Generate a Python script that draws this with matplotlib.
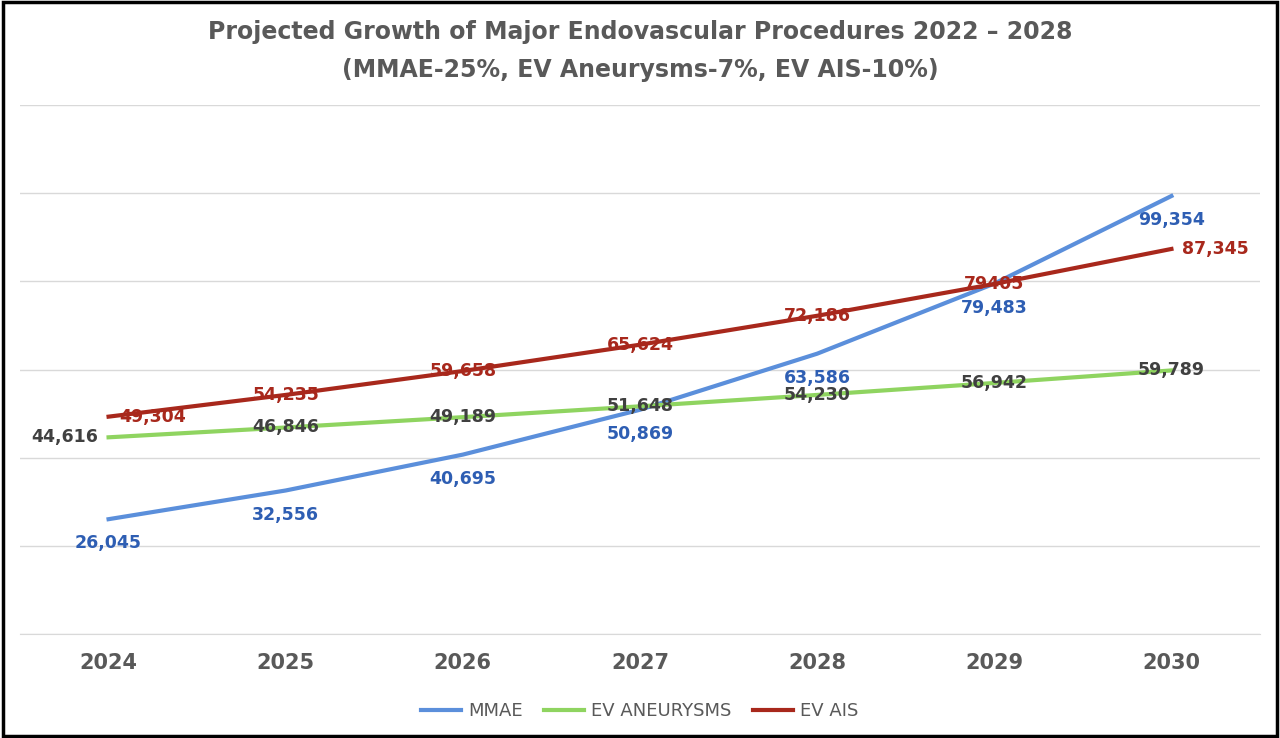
import matplotlib.pyplot as plt
from matplotlib.patches import Rectangle

years = ['2024', '2025', '2026', '2027', '2028', '2029', '2030']
mmae = [26045, 32556, 40695, 50869, 63586, 79483, 99354]
aneurysms = [44616, 46846, 49189, 51648, 54230, 56942, 59789]
ais = [49304, 54235, 59658, 65624, 72186, 79405, 87345]
ais_labels = ['49,304', '54,235', '59,658', '65,624', '72,186', '79405', '87,345']

fig = plt.figure(figsize=(12.8, 7.38), dpi=100)
ax = fig.add_axes([20 / 1280, 104 / 738, 1240 / 1280, 529 / 738])
x = range(len(years))

ax.plot(x, mmae, color='#5B8FDB', lw=3, label='MMAE', zorder=3)
ax.plot(x, aneurysms, color='#8FD460', lw=3, label='EV ANEURYSMS', zorder=3)
ax.plot(x, ais, color='#A8281C', lw=3, label='EV AIS', zorder=3)

for i, v in enumerate(mmae):
    if i == 6:
        ax.text(i, v - 5500, f'{v:,}', color='#2E5EB3', ha='center', va='center',
                fontsize=12.5, fontweight='bold', zorder=4)
    else:
        ax.text(i, v - 5500, f'{v:,}', color='#2E5EB3', ha='center', va='center',
                fontsize=12.5, fontweight='bold', zorder=4)
for i, v in enumerate(aneurysms):
    if i == 0:
        ax.text(i - 0.25, v, f'{v:,}', color='#404040', ha='center', va='center',
                fontsize=12.5, fontweight='bold', zorder=4)
    else:
        ax.text(i, v, f'{v:,}', color='#404040', ha='center', va='center',
                fontsize=12.5, fontweight='bold', zorder=4)
for i, v in enumerate(ais):
    dx = 0.25 if i == 6 else (0.25 if i == 0 else 0)
    ax.text(i + dx, v, ais_labels[i], color='#A8281C', ha='center', va='center',
            fontsize=12.5, fontweight='bold', zorder=4)

ax.set_xlim(-0.5, 6.5)
ax.set_ylim(0, 120000)
ax.set_yticks(range(0, 120001, 20000))
ax.set_yticklabels([])
ax.tick_params(axis='y', length=0)
ax.tick_params(axis='x', length=0, pad=14)
ax.set_xticks(list(x))
ax.set_xticklabels(years, fontsize=15, fontweight='bold', color='#595959')
ax.grid(axis='y', color='#D9D9D9', lw=1)
for s in ['left', 'right', 'top']:
    ax.spines[s].set_visible(False)
ax.spines['bottom'].set_color('#D9D9D9')

fig.text(0.5, 32 / 738 * -1 + 1, 'Projected Growth of Major Endovascular Procedures 2022 – 2028',
         ha='center', va='center', fontsize=17, fontweight='bold', color='#595959')
fig.text(0.5, 1 - 70 / 738, '(MMAE-25%, EV Aneurysms-7%, EV AIS-10%)',
         ha='center', va='center', fontsize=17, fontweight='bold', color='#595959')

fig.legend(loc='center', bbox_to_anchor=(0.5, 1 - 711 / 738), ncol=3, frameon=False,
           fontsize=13, labelcolor='#595959', handlelength=2.2, columnspacing=1.2,
           handletextpad=0.4)
fig.patches.append(Rectangle((0.002, 0.003), 0.996, 0.994, transform=fig.transFigure,
                             fill=False, edgecolor='black', lw=2.5))
fig.savefig('out.png', dpi=100)
